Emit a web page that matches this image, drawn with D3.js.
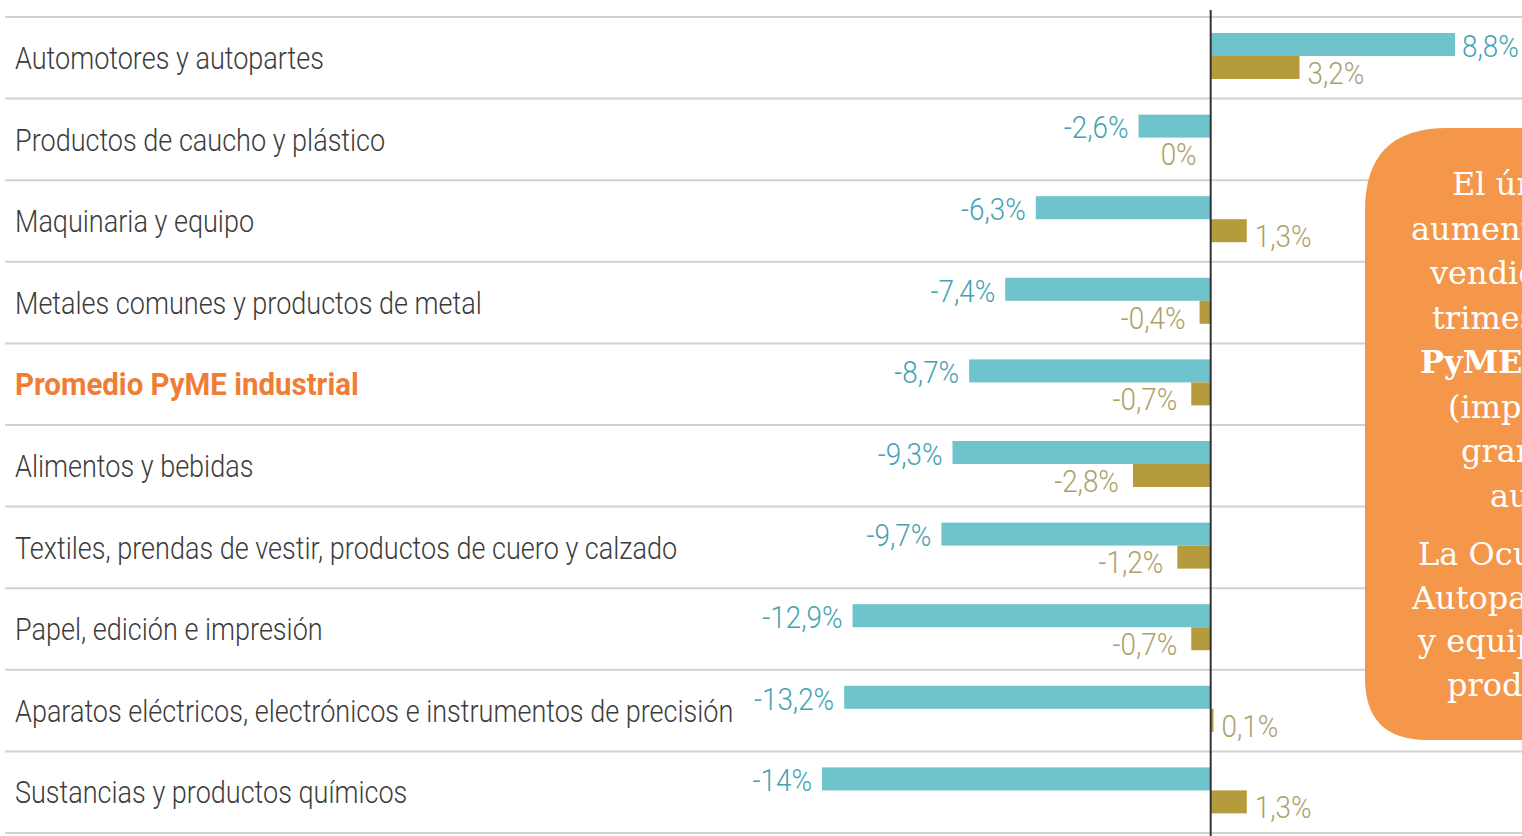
<!DOCTYPE html>
<html>
<head>
<meta charset="utf-8">
<script src="https://cdn.jsdelivr.net/npm/d3@7"></script>
<style>
  body { margin: 0; background: #fff; }
  svg { display: block; }
</style>
</head>
<body>
<svg id="chart"></svg>
<script>
let w = 1522;
let h = 836;

let categories = [
  "Automotores y autopartes",
  "Productos de caucho y plástico",
  "Maquinaria y equipo",
  "Metales comunes y productos de metal",
  "Promedio PyME industrial",
  "Alimentos y bebidas",
  "Textiles, prendas de vestir, productos de cuero y calzado",
  "Papel, edición e impresión",
  "Aparatos eléctricos, electrónicos e instrumentos de precisión",
  "Sustancias y productos químicos"
];
let cantidades = [8.8, -2.6, -6.3, -7.4, -8.7, -9.3, -9.7, -12.9, -13.2, -14];
let empleo = [3.2, 0, 1.3, -0.4, -0.7, -2.8, -1.2, -0.7, 0.1, 1.3];
let highlight = "Promedio PyME industrial";

let parrafo1 = [
  "El único sector que",
  "aumentó sus cantidades",
  "vendidas en el primer",
  "trimestre fue el de",
  "PyME Automotores",
  "(impulsado por el",
  "gran crecimiento del",
  "autoparte)."
];
let parrafo2 = [
  "La Ocupación en",
  "Autopartes, Maquinaria",
  "y equipo creció por",
  "productividad."
];

let teal = "#6fc3cc";
let tealText = "#44a2b2";
let gold = "#b59b3b";
let goldText = "#ad9f6c";
let orange = "#f5974a";
let sans = "Roboto, 'Liberation Sans', sans-serif";
let squeeze = 0.845;
let squeezeBold = 0.92;
let squeezeVal = 0.87;

let svg = d3.select("#chart").attr("width", w).attr("height", h);

let xScale = d3.scaleLinear().domain([-14, 8.8]).range([822, 1455]);
let yScale = d3.scaleBand().domain(categories).range([17, 833]);
let step = yScale.bandwidth();
let fmt = (v) => {
  let s = Number.isInteger(v) ? String(Math.abs(v)) : Math.abs(v).toFixed(1).replace(".", ",");
  return (v < 0 ? "-" : "") + s + "%";
};

// grid lines between rows
let lines = categories.map((c) => yScale(c)).concat([yScale.range()[1]]);
svg.append("g")
   .selectAll("line")
   .data(lines)
   .enter()
   .append("line")
   .attr("x1", 5)
   .attr("x2", w)
   .attr("y1", (d) => d)
   .attr("y2", (d) => d)
   .attr("stroke", "#d2d2d2")
   .attr("stroke-width", 2)

// category labels
svg.append("g")
   .selectAll("text")
   .data(categories)
   .enter()
   .append("text")
   .attr("transform", (d) => `translate(15, ${yScale(d) + step / 2}) scale(${d == highlight ? squeezeBold : squeeze}, 1)`)
   .attr("dy", "0.35em")
   .attr("font-family", sans)
   .attr("font-size", 32)
   .attr("font-weight", (d) => d == highlight ? "bold" : 300)
   .attr("fill", (d) => d == highlight ? "#ef7d36" : "#3c3c3c")
   .text((d) => d)

let barTop = 16;
let barH = 23;

// teal bars
svg.append("g")
   .selectAll("rect")
   .data(categories)
   .enter()
   .append("rect")
   .attr("x", (d, i) => Math.min(xScale(0), xScale(cantidades[i])))
   .attr("y", (d) => yScale(d) + barTop)
   .attr("width", (d, i) => Math.abs(xScale(cantidades[i]) - xScale(0)))
   .attr("height", barH)
   .attr("fill", teal)

// gold bars
svg.append("g")
   .selectAll("rect")
   .data(categories)
   .enter()
   .append("rect")
   .attr("x", (d, i) => Math.min(xScale(0), xScale(empleo[i])))
   .attr("y", (d) => yScale(d) + barTop + barH)
   .attr("width", (d, i) => Math.abs(xScale(empleo[i]) - xScale(0)))
   .attr("height", barH)
   .attr("fill", gold)

// value labels
svg.append("g")
   .selectAll("text")
   .data(categories)
   .enter()
   .append("text")
   .attr("transform", (d, i) => {
      let x = cantidades[i] > 0 ? xScale(cantidades[i]) + 7 : xScale(cantidades[i]) - 10;
      return `translate(${x}, ${yScale(d) + barTop + barH / 2 + 1}) scale(${squeezeVal}, 1)`;
   })
   .attr("dy", "0.35em")
   .attr("text-anchor", (d, i) => cantidades[i] > 0 ? "start" : "end")
   .attr("font-family", sans)
   .attr("font-size", 32)
   .attr("font-weight", 300)
   .attr("fill", tealText)
   .text((d, i) => fmt(cantidades[i]))

svg.append("g")
   .selectAll("text")
   .data(categories)
   .enter()
   .append("text")
   .attr("transform", (d, i) => {
      let x = empleo[i] > 0 ? xScale(empleo[i]) + 8 : xScale(empleo[i]) - 14;
      return `translate(${x}, ${yScale(d) + barTop + barH * 1.5 + 5}) scale(${squeezeVal}, 1)`;
   })
   .attr("dy", "0.35em")
   .attr("text-anchor", (d, i) => empleo[i] > 0 ? "start" : "end")
   .attr("font-family", sans)
   .attr("font-size", 32)
   .attr("font-weight", 300)
   .attr("fill", goldText)
   .text((d, i) => fmt(empleo[i]))

// zero line
svg.append("line")
   .attr("x1", xScale(0))
   .attr("x2", xScale(0))
   .attr("y1", 10)
   .attr("y2", h)
   .attr("stroke", "#333")
   .attr("stroke-width", 2)

// callout box
let bx = 1365, by = 128, bw = 400, bh = 612, r1 = 82, r2 = 62;
let box = d3.path();
box.moveTo(bx + r1, by);
box.lineTo(bx + bw, by);
box.lineTo(bx + bw, by + bh);
box.lineTo(bx + r2, by + bh);
box.quadraticCurveTo(bx, by + bh, bx, by + bh - r2);
box.lineTo(bx, by + r1);
box.quadraticCurveTo(bx, by, bx + r1, by);
box.closePath();
svg.append("path").attr("d", box.toString()).attr("fill", orange)

let left1 = [1452, 1411, 1430, 1432, 1420, 1448, 1461, 1490];
let left2 = [1418, 1412, 1418, 1447];
let serif = "'DejaVu Serif', 'Liberation Serif', serif";

svg.append("g")
   .selectAll("text")
   .data(parrafo1)
   .enter()
   .append("text")
   .attr("x", (d, i) => left1[i])
   .attr("y", (d, i) => 195 + i * 44.5)
   .attr("font-family", serif)
   .attr("font-size", 32)
   .attr("font-weight", (d, i) => i == 4 ? "bold" : "normal")
   .attr("fill", "#fff")
   .text((d) => d)

svg.append("g")
   .selectAll("text")
   .data(parrafo2)
   .enter()
   .append("text")
   .attr("x", (d, i) => left2[i])
   .attr("y", (d, i) => 565 + i * 43.7)
   .attr("font-family", serif)
   .attr("font-size", 32)
   .attr("fill", "#fff")
   .text((d) => d)
</script>
</body>
</html>
